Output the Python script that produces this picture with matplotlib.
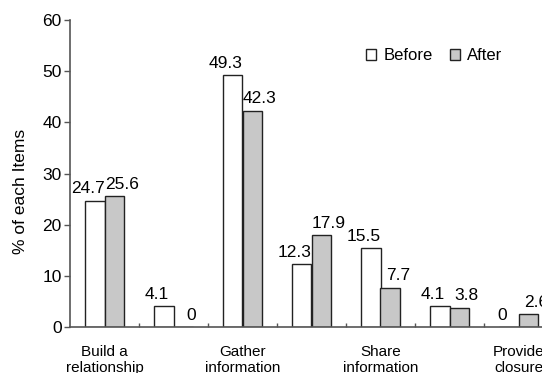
import matplotlib
matplotlib.use("Agg")
import matplotlib.pyplot as plt
import numpy as np

# data
categories = ["Build a\nrelationship", "", "Gather\ninformation", "",
              "Share\ninformation", "", "Provide\nclosure"]
before = [24.7, 4.1, 49.3, 12.3, 15.5, 4.1, 0]
after = [25.6, 0, 42.3, 17.9, 7.7, 3.8, 2.6]
yticks = [0, 10, 20, 30, 40, 50, 60]

plt.rcParams['font.family'] = ['Liberation Sans', 'DejaVu Sans']

fig = plt.figure(figsize=(5.42, 3.73), dpi=100)
# axes runs past the right edge like the cropped original
ax = fig.add_axes([70 / 542, 1 - 327 / 373, 483 / 542, 307 / 373])

x = np.arange(len(categories))
w = 0.28
edge = '#222222'
b1 = ax.bar(x - w / 2, before, w, color='white', edgecolor=edge, linewidth=1.0, label='Before')
b2 = ax.bar(x + w / 2, after, w, color='#c8c8c8', edgecolor=edge, linewidth=1.0, label='After')

# labels pushed apart a little so the pairs don't collide
for rect, v in zip(b1, before):
    ax.annotate(f"{v:g}", (rect.get_x() + rect.get_width() / 2, v),
                xytext=(-5, 3), textcoords='offset points',
                ha='center', va='bottom', fontsize=12.5)
for rect, v in zip(b2, after):
    ax.annotate(f"{v:g}", (rect.get_x() + rect.get_width() / 2, v),
                xytext=(5.5, 3), textcoords='offset points',
                ha='center', va='bottom', fontsize=12.5)

ax.set_xlim(-0.5, 6.5)
ax.set_ylim(0, 60)
ax.set_yticks(yticks)
ax.tick_params(axis='y', labelsize=12.5, length=4, width=1, color='#555555', pad=2)

ax.set_xticks(x)
ax.set_xticklabels(categories, fontsize=11, linespacing=1.2)
ax.tick_params(axis='x', length=0, pad=13)
ax.set_xticks(x[:-1] + 0.5, minor=True)
ax.tick_params(axis='x', which='minor', direction='in', length=3, width=1, color='#555555')

for s in ['top', 'right']:
    ax.spines[s].set_visible(False)
for s in ['left', 'bottom']:
    ax.spines[s].set_color('#555555')
    ax.spines[s].set_linewidth(1.2)

ax.set_ylabel("% of each Items", fontsize=12.5)
ax.yaxis.set_label_coords(-0.087, 0.44)

ax.legend(loc='upper left', bbox_to_anchor=(0.6, 0.93), ncol=2, frameon=False,
          fontsize=12, handlelength=0.6, handleheight=0.6, handletextpad=0.4,
          columnspacing=1.05, borderaxespad=0)

fig.savefig("out.png", dpi=100)
